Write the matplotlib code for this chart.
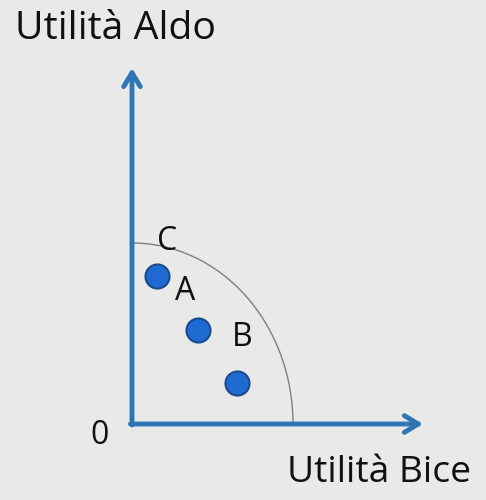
import matplotlib.pyplot as plt
from matplotlib.patches import Arc

# --- data (in "pixel-like" utility units, origin at 0) ---
point_x = [25, 66, 105]
point_y = [148, 94, 41]
label_names = ["C", "A", "B"]
label_x = [35, 53, 110]
label_y = [183, 133, 87]
frontier_rx = 161   # where the frontier meets the Bice axis
frontier_ry = 181   # where the frontier meets the Aldo axis
axis_end_x = 291
axis_end_y = 356

BLUE = "#2e75b6"
BG = "#e9e9e7"
plt.rcParams["font.family"] = ["Open Sans", "DejaVu Sans"]

fig = plt.figure(figsize=(4.86, 5.0), dpi=100, facecolor=BG)
ax = fig.add_axes([0, 0, 1, 1])
ax.set_facecolor(BG)
ax.set_xlim(-132, 486 - 132)
ax.set_ylim(-(500 - 424), 424)
ax.axis("off")

# frontier (quarter arc)
ax.add_patch(Arc((0, 0), 2 * frontier_rx, 2 * frontier_ry, theta1=0, theta2=90,
                 color="#7f7f7f", lw=1.0, zorder=2))

# axes with arrowheads
head = "->,head_length=1.0,head_width=0.6"
ax.annotate("", xy=(0, axis_end_y), xytext=(0, -1),
            arrowprops=dict(arrowstyle=head, color=BLUE, lw=3.5, shrinkA=0, shrinkB=0), zorder=3)
ax.annotate("", xy=(axis_end_x, 0), xytext=(-1.5, 0),
            arrowprops=dict(arrowstyle=head, color=BLUE, lw=3.5, shrinkA=0, shrinkB=0), zorder=3)

# points
ax.scatter(point_x, point_y, s=300, color="#1f6ad0", edgecolor="#1a4a90",
           linewidth=1.5, zorder=4)

for name, lx, ly in zip(label_names, label_x, label_y):
    ax.text(lx, ly, name, fontsize=23, ha="center", va="center", color="#111111", zorder=5)

ax.text(-32, -11, "0", fontsize=23, ha="center", va="center", color="#111111")
ax.text(-117, 385, "Utilità Aldo", fontsize=28.3, ha="left", va="baseline", color="#111111")
ax.text(155, -58, "Utilità Bice", fontsize=26.7, ha="left", va="baseline", color="#111111")

fig.savefig("out.png", dpi=100, facecolor=BG)
